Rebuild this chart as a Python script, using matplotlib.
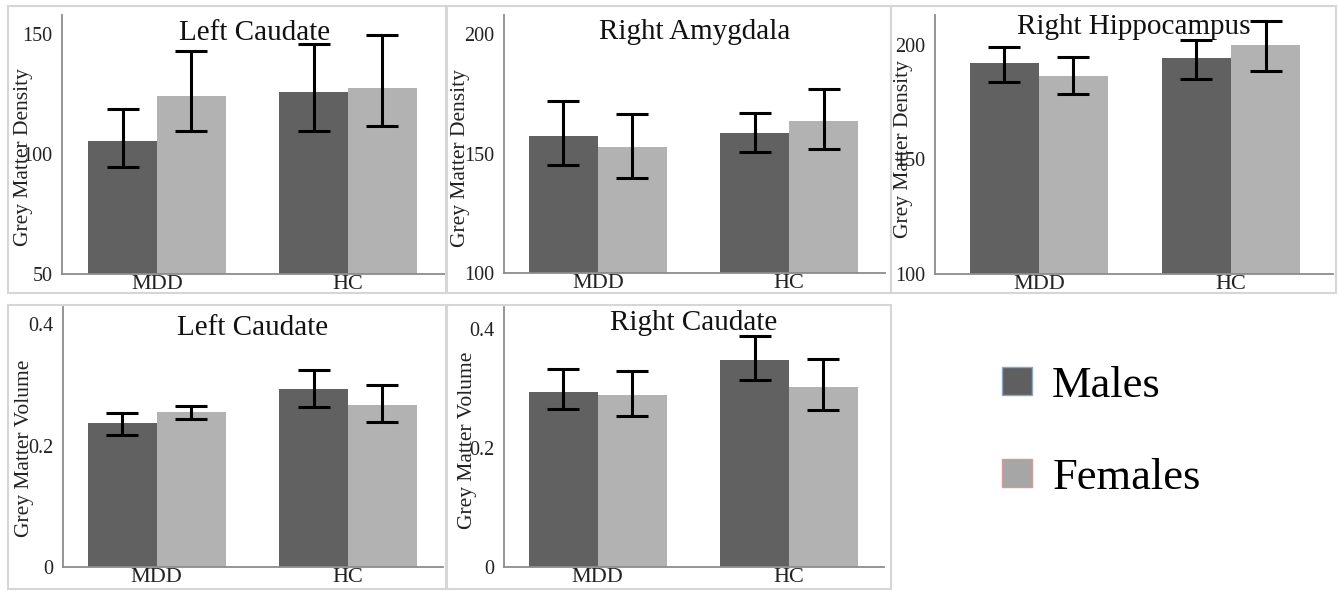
import matplotlib.pyplot as plt
from matplotlib.patches import Patch, Rectangle
from matplotlib.ticker import FuncFormatter

plt.rcParams['font.family'] = ['Liberation Serif', 'DejaVu Serif']

groups = ["MDD", "HC"]

# 각 패널 값 (평균, 오차막대 아래/위 끝)
lcd_title = "Left Caudate"
lcd_males = [105.6, 125.9]
lcd_males_lo = [94.5, 109.8]
lcd_males_hi = [118.9, 145.8]
lcd_females = [124.2, 127.7]
lcd_females_lo = [109.5, 111.6]
lcd_females_hi = [143.0, 149.6]

ramy_title = "Right Amygdala"
ramy_males = [157.2, 158.4]
ramy_males_lo = [145.0, 150.5]
ramy_males_hi = [172.0, 166.8]
ramy_females = [152.8, 163.7]
ramy_females_lo = [139.8, 152.1]
ramy_females_hi = [166.4, 177.2]

rhip_title = "Right Hippocampus"
rhip_males = [192.0, 194.2]
rhip_males_lo = [183.7, 185.2]
rhip_males_hi = [199.0, 202.2]
rhip_females = [186.5, 200.0]
rhip_females_lo = [178.5, 188.6]
rhip_females_hi = [194.5, 210.2]

lcv_title = "Left Caudate"
lcv_males = [0.2365, 0.2935]
lcv_males_lo = [0.217, 0.2634]
lcv_males_hi = [0.253, 0.324]
lcv_females = [0.2546, 0.2667]
lcv_females_lo = [0.2436, 0.239]
lcv_females_hi = [0.2645, 0.2996]

rcv_title = "Right Caudate"
rcv_males = [0.2935, 0.348]
rcv_males_lo = [0.265, 0.3146]
rcv_males_hi = [0.3327, 0.3887]
rcv_females = [0.289, 0.302]
rcv_females_lo = [0.254, 0.264]
rcv_females_hi = [0.330, 0.349]

male_color = "#616161"
female_color = "#b2b2b2"

W, H = 1339, 591
fig = plt.figure(figsize=(W / 100, H / 100), dpi=100)


def px_axes(x0, x1, y0, y1):
    # 픽셀 좌표 -> figure 비율
    return fig.add_axes([x0 / W, 1 - y1 / H, (x1 - x0) / W, (y1 - y0) / H])


def panel(ax, title, ty, m, mlo, mhi, f, flo, fhi, ylabel, lab_xy, ylim, yticks, xlim, vol=False):
    x = [0, 1]
    bw = 0.36
    xm = [i - bw / 2 for i in x]
    xf = [i + bw / 2 for i in x]
    ax.bar(xm, m, bw, color=male_color)
    ax.bar(xf, f, bw, color=female_color)
    ax.errorbar(xm, m, yerr=[[a - b for a, b in zip(m, mlo)], [b - a for a, b in zip(m, mhi)]],
                fmt="none", ecolor="black", elinewidth=2.2, capsize=11.5, capthick=2.2)
    ax.errorbar(xf, f, yerr=[[a - b for a, b in zip(f, flo)], [b - a for a, b in zip(f, fhi)]],
                fmt="none", ecolor="black", elinewidth=2.2, capsize=11.5, capthick=2.2)
    ax.set_xlim(*xlim)
    ax.set_ylim(*ylim)
    ax.set_yticks(yticks)
    if vol:
        ax.yaxis.set_major_formatter(FuncFormatter(lambda v, p: "0" if v == 0 else f"{v:.1f}"))
    ax.set_xticks(x)
    ax.set_xticklabels(groups, fontsize=16)
    ax.tick_params(axis="both", length=0, colors="#222222")
    ax.tick_params(axis="y", labelsize=14.5, pad=7)
    ax.tick_params(axis="x", pad=1)
    ax.set_ylabel(ylabel, fontsize=15.5, color="#222222", va="center")
    ax.yaxis.set_label_coords(*lab_xy)
    for s in ["top", "right"]:
        ax.spines[s].set_visible(False)
    for s in ["left", "bottom"]:
        ax.spines[s].set_color("#8c8c8c")
        ax.spines[s].set_linewidth(1.3)
    ax.text(0.5, ty, title, transform=ax.transAxes, ha="center", va="center",
            fontsize=21, color="#111111", zorder=5)


ax1 = px_axes(62, 447, 15, 274)
panel(ax1, lcd_title, 0.93, lcd_males, lcd_males_lo, lcd_males_hi,
      lcd_females, lcd_females_lo, lcd_females_hi,
      "Grey Matter Density", (-0.101, 0.45), (50, 158), [50, 100, 150], (-0.497, 1.518))

ax2 = px_axes(504, 885, 15, 273)
panel(ax2, ramy_title, 0.934, ramy_males, ramy_males_lo, ramy_males_hi,
      ramy_females, ramy_females_lo, ramy_females_hi,
      "Grey Matter Density", (-0.115, 0.446), (100, 208), [100, 150, 200], (-0.49, 1.50))

ax3 = px_axes(935, 1333, 15, 274)
panel(ax3, rhip_title, 0.954, rhip_males, rhip_males_lo, rhip_males_hi,
      rhip_females, rhip_females_lo, rhip_females_hi,
      "Grey Matter Density", (-0.08, 0.483), (100, 213), [100, 150, 200], (-0.54, 1.53))

ax4 = px_axes(63, 443, 307, 567)
panel(ax4, lcv_title, 0.919, lcv_males, lcv_males_lo, lcv_males_hi,
      lcv_females, lcv_females_lo, lcv_females_hi,
      "Grey Matter Volume", (-0.1, 0.458), (0, 0.428), [0, 0.2, 0.4], (-0.49, 1.497), vol=True)

ax5 = px_axes(504, 884, 307, 567)
panel(ax5, rcv_title, 0.938, rcv_males, rcv_males_lo, rcv_males_hi,
      rcv_females, rcv_females_lo, rcv_females_hi,
      "Grey Matter Volume", (-0.097, 0.488), (0, 0.437), [0, 0.2, 0.4], (-0.49, 1.497), vol=True)

# 패널 테두리 (연한 회색 박스)
boxes = [(8, 6, 446, 293), (447, 6, 891, 293), (891, 6, 1336, 293),
         (8, 305, 446, 589), (447, 305, 891, 589)]
for x0, y0, x1, y1 in boxes:
    fig.patches.append(Rectangle((x0 / W, 1 - y1 / H), (x1 - x0) / W, (y1 - y0) / H,
                                 transform=fig.transFigure, fill=False,
                                 edgecolor="#d6d6d6", linewidth=1.5, zorder=0))

# 범례
handles = [Patch(facecolor="#5f5f5f", edgecolor="#8aa6c8", linewidth=1, label="Males"),
           Patch(facecolor="#a6a6a6", edgecolor="#d49a9a", linewidth=1, label="Females")]
fig.legend(handles=handles, loc="upper left", bbox_to_anchor=(1002 / W, 1 - 366 / H),
           frameon=False, fontsize=32, handlelength=0.68, handleheight=0.59,
           handletextpad=0.45, labelspacing=1.16, borderpad=0, borderaxespad=0)

plt.savefig("out.png", dpi=100)
